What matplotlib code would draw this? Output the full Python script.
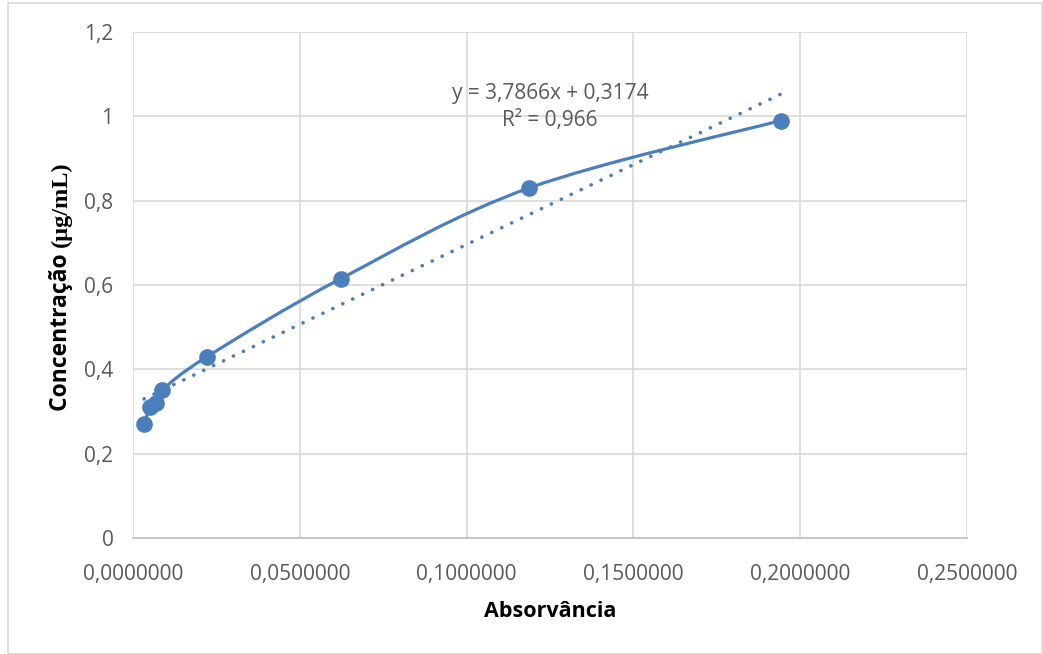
import numpy as np
import matplotlib
matplotlib.use("Agg")
import matplotlib.pyplot as plt
from matplotlib.path import Path
from matplotlib.patches import PathPatch, Rectangle
from matplotlib.ticker import FuncFormatter, MultipleLocator

# calibration points
absorbancia = [0.0033, 0.0051, 0.0069, 0.0087, 0.0222, 0.0623, 0.1187, 0.1942]
concentracao = [0.27, 0.31, 0.32, 0.35, 0.43, 0.615, 0.83, 0.99]

# linear trendline reported on the chart
slope = 3.7866
intercept = 0.3174
r2 = 0.966

blue = "#4A7EBD"
grey_txt = "#595959"
grid_c = "#D9D9D9"
plt.rcParams["font.family"] = ["Open Sans", "DejaVu Sans"]

fig = plt.figure(figsize=(10.43, 6.54), dpi=100)
ax = fig.add_axes([133 / 1043, 1 - 538 / 654, (967 - 133) / 1043, (538 - 32) / 654])

# outer chart border
fig.patches.append(Rectangle((8 / 1043, 0), 1 - 9 / 1043, 1 - 3 / 654, transform=fig.transFigure,
                             fill=False, edgecolor="#D9D9D9", lw=1.2))


def smooth_path(xs, ys):
    # Catmull-Rom style bezier, like a spreadsheet "smoothed line"
    pts = np.column_stack([xs, ys])
    n = len(pts)
    verts = [pts[0]]
    codes = [Path.MOVETO]
    for i in range(n - 1):
        p0 = pts[i - 1] if i > 0 else pts[i]
        p1 = pts[i]
        p2 = pts[i + 1]
        p3 = pts[i + 2] if i + 2 < n else pts[i + 1]
        c1 = p1 + (p2 - p0) / 6
        c2 = p2 - (p3 - p1) / 6
        verts += [c1, c2, p2]
        codes += [Path.CURVE4] * 3
    return Path(verts, codes)


ax.add_patch(PathPatch(smooth_path(absorbancia, concentracao), facecolor="none",
                       edgecolor=blue, lw=2.3, zorder=3))
ax.plot(absorbancia, concentracao, "o", color=blue, ms=11, zorder=4)

# trendline
tx = np.array([min(absorbancia), max(absorbancia)])
ax.plot(tx, slope * tx + intercept, color=blue, lw=2.6, linestyle=(0, (0.05, 3.0)),
        dash_capstyle="round", zorder=3)

ax.text(0.125, 1.055, "y = 3,7866x + 0,3174", ha="center", va="center", fontsize=15, color=grey_txt)
ax.text(0.125, 0.989, "R² = 0,966", ha="center", va="center", fontsize=15, color=grey_txt)

ax.set_xlim(0, 0.25)
ax.set_ylim(0, 1.2)
ax.xaxis.set_major_locator(MultipleLocator(0.05))
ax.yaxis.set_major_locator(MultipleLocator(0.2))
ax.xaxis.set_major_formatter(FuncFormatter(lambda v, p: ("%.7f" % v).replace(".", ",")))
ax.yaxis.set_major_formatter(FuncFormatter(lambda v, p: ("%g" % round(v, 2)).replace(".", ",")))
ax.tick_params(axis="both", length=0, labelsize=15, labelcolor=grey_txt)
ax.tick_params(axis="x", pad=19)
ax.tick_params(axis="y", pad=14)

ax.grid(True, color=grid_c, lw=1.2)
ax.set_axisbelow(True)
for s in ["top", "right", "left"]:
    ax.spines[s].set_visible(False)
ax.spines["bottom"].set_color("#BFBFBF")
ax.spines["bottom"].set_linewidth(1.2)

ax.set_xlabel("Absorvância", fontsize=15.5, fontweight="bold", labelpad=11)

# y title: sans part plus serif unit part
t1 = fig.text(61 / 1043, 1 - 411 / 654, "Concentração ", rotation=90, ha="center", va="bottom",
              fontsize=16.5, fontweight="bold")
fig.canvas.draw()
bb = t1.get_window_extent().transformed(fig.transFigure.inverted())
fig.text(61 / 1043, bb.y1, "(µg/mL)", rotation=90, ha="center", va="bottom",
         fontsize=17.5, fontweight="bold", family="Liberation Serif")

fig.savefig("out.png", dpi=100)
